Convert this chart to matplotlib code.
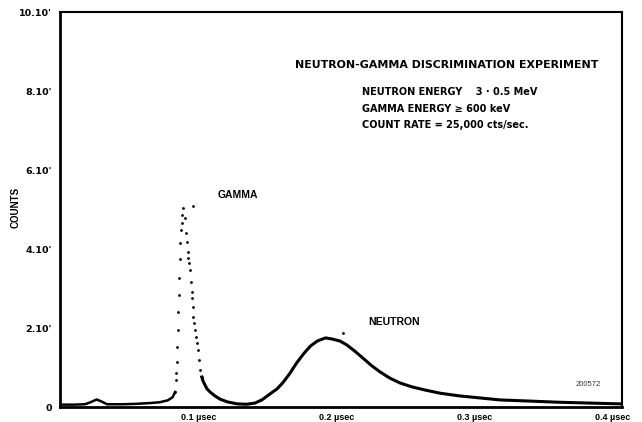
import matplotlib
matplotlib.use('Agg')
import matplotlib.pyplot as plt

# time axis in usec, counts in units of the tick labels
base_t = [0.002, 0.010, 0.018, 0.022, 0.0265, 0.030, 0.034, 0.045, 0.055, 0.065,
          0.072, 0.078, 0.0815, 0.0832]
base_c = [0.06, 0.06, 0.07, 0.12, 0.19, 0.14, 0.07, 0.07, 0.08, 0.10,
          0.12, 0.17, 0.25, 0.38]

# gamma peak, drawn as separate dots
gamma_t = [0.0832, 0.0837, 0.0839, 0.0844, 0.0848, 0.0851, 0.0855, 0.0860, 0.0863, 0.0868,
           0.0869, 0.0873, 0.0880, 0.0884, 0.0892, 0.0904, 0.0911, 0.0920, 0.0922, 0.0928,
           0.0935, 0.0940, 0.0945, 0.0952, 0.0954, 0.0959, 0.0964, 0.0969, 0.0976, 0.0983,
           0.0988, 0.0996, 0.1003, 0.1012, 0.1025]
gamma_c = [0.38, 0.68, 0.86, 1.14, 1.52, 1.95, 2.41, 2.84, 3.27, 3.75,
           4.15, 4.48, 4.66, 4.86, 5.04, 4.78, 4.41, 4.18, 3.92, 3.77,
           3.65, 3.47, 3.16, 2.91, 2.76, 2.53, 2.28, 2.13, 1.95, 1.77,
           1.62, 1.44, 1.19, 0.94, 0.76]

# valley and neutron hump
tail_t = [0.1025, 0.1034, 0.1048, 0.1063, 0.1085, 0.1121, 0.1157, 0.121, 0.128, 0.135,
          0.141, 0.146, 0.1518, 0.157, 0.161, 0.166, 0.171, 0.176, 0.181, 0.186,
          0.192, 0.197, 0.2025, 0.2075, 0.213, 0.219, 0.2256, 0.2314, 0.2386, 0.2458,
          0.2545, 0.264, 0.2748, 0.2892, 0.3037, 0.318, 0.340, 0.3615, 0.383, 0.405]
tail_c = [0.76, 0.66, 0.56, 0.46, 0.38, 0.28, 0.20, 0.13, 0.08, 0.07,
          0.10, 0.18, 0.33, 0.46, 0.61, 0.84, 1.11, 1.34, 1.54, 1.67,
          1.75, 1.72, 1.67, 1.57, 1.42, 1.24, 1.04, 0.89, 0.73, 0.61,
          0.51, 0.43, 0.35, 0.28, 0.23, 0.18, 0.15, 0.12, 0.10, 0.08]

stray_t = [0.0964, 0.2046]
stray_c = [5.09, 1.87]

x_ticks = [0.1, 0.2, 0.3, 0.4]
x_labels = ['0.1 \u00b5sec', '0.2 \u00b5sec', '0.3 \u00b5sec', '0.4 \u00b5sec']
y_ticks = [0, 2, 4, 6, 8, 10]
y_labels = ['0', "2.10'", "4.10'", "6.10'", "8.10'", "10.10'"]

title = 'NEUTRON-GAMMA DISCRIMINATION EXPERIMENT'
info_lines = ['NEUTRON ENERGY    3 \u00b7 0.5 MeV',
              'GAMMA ENERGY \u2265 600 keV',
              'COUNT RATE = 25,000 cts/sec.']

WIDE = ['DejaVu Sans']


def run():
    plt.rcParams['font.family'] = ['Liberation Sans', 'DejaVu Sans']
    fig = plt.figure(figsize=(6.42, 4.22), dpi=100)
    ax = fig.add_axes([0.0935, 0.0355, 0.8755, 0.936])

    ax.plot(base_t, base_c, color='black', lw=1.8)
    ax.plot(tail_t, tail_c, color='black', lw=2.2)
    ax.plot(gamma_t, gamma_c, 'o', color='black', ms=2.0, mew=0)
    ax.plot(stray_t, stray_c, 'o', color='black', ms=2.0, mew=0)

    ax.set_xlim(0, 0.4065)
    ax.set_ylim(0, 10)
    ax.set_xticks(x_ticks)
    ax.set_xticklabels(x_labels, fontsize=6.5, fontweight='bold')
    ax.set_yticks(y_ticks)
    ax.set_yticklabels(y_labels, fontsize=6.8, fontweight='bold', family=WIDE)
    ax.tick_params(axis='x', length=0, pad=4)
    ax.tick_params(axis='y', length=0, pad=6)
    for side in ['left', 'bottom']:
        ax.spines[side].set_linewidth(2.0)
    for side in ['top', 'right']:
        ax.spines[side].set_linewidth(1.5)

    fig.text(16 / 642, 1 - 207 / 422, 'COUNTS', rotation=90, ha='center', va='center',
             fontsize=7, fontweight='bold')

    ax.text(0.170, 8.66, title, ha='left', va='center', fontsize=7.9,
            fontweight='bold', family=WIDE)
    y = 7.97
    for line in info_lines:
        ax.text(0.2184, y, line, ha='left', va='center', fontsize=7.0,
                fontweight='bold', family=WIDE)
        y -= 0.415

    ax.text(0.1142, 5.37, 'GAMMA', ha='left', va='center', fontsize=7.5, fontweight='bold')
    ax.text(0.2227, 2.15, 'NEUTRON', ha='left', va='center', fontsize=7.5, fontweight='bold')
    ax.text(0.382, 0.56, '200572', ha='center', va='center', fontsize=5.5, color='#333333')

    plt.savefig('out.png', dpi=100)


if __name__ == "__main__":
    run()
